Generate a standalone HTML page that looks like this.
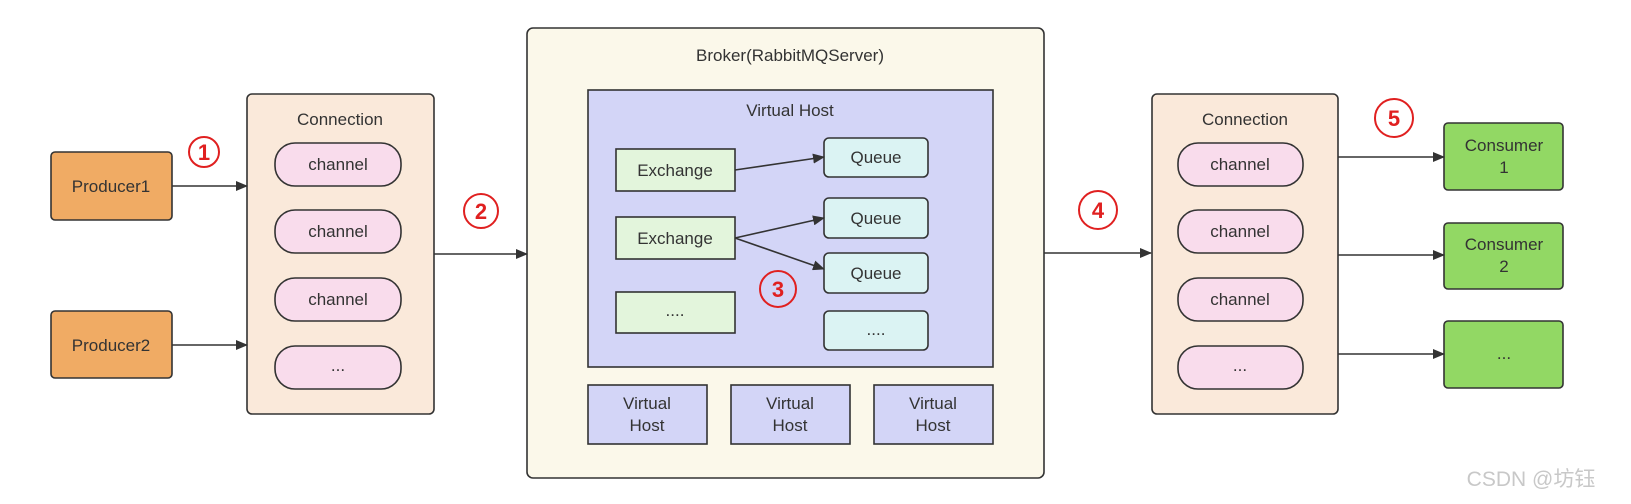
<!DOCTYPE html>
<html><head><meta charset="utf-8"><style>
html,body{margin:0;padding:0;background:#fff;}
svg{display:block;font-family:"Liberation Sans","Noto Sans CJK SC",sans-serif;}
</style></head><body>
<svg width="1631" height="504" viewBox="0 0 1631 504" xmlns="http://www.w3.org/2000/svg">
<defs><marker id="a" markerWidth="12" markerHeight="10" refX="11" refY="5" orient="auto" markerUnits="userSpaceOnUse"><path d="M0,0 L12,5 L0,10 z" fill="#333"/></marker></defs>
<g stroke="#333" stroke-width="1.6" font-size="16" fill="#333">
<!-- producers -->
<rect x="51" y="152" width="121" height="68" rx="4" fill="#f0ab64"/>
<rect x="51" y="311" width="121" height="67" rx="4" fill="#f0ab64"/>
<!-- connection left -->
<rect x="247" y="94" width="187" height="320" rx="5" fill="#fae9da"/>
<rect x="275" y="143" width="126" height="43" rx="20" fill="#f9dcec"/>
<rect x="275" y="210" width="126" height="43" rx="20" fill="#f9dcec"/>
<rect x="275" y="278" width="126" height="43" rx="20" fill="#f9dcec"/>
<rect x="275" y="346" width="126" height="43" rx="20" fill="#f9dcec"/>
<!-- broker -->
<rect x="527" y="28" width="517" height="450" rx="6" fill="#fbf8ea"/>
<rect x="588" y="90" width="405" height="277" fill="#d3d5f7"/>
<rect x="616" y="149" width="119" height="42" fill="#e3f5dc"/>
<rect x="616" y="217" width="119" height="42" fill="#e3f5dc"/>
<rect x="616" y="292" width="119" height="41" fill="#e3f5dc"/>
<rect x="824" y="138" width="104" height="39" rx="5" fill="#dbf3f3"/>
<rect x="824" y="198" width="104" height="40" rx="5" fill="#dbf3f3"/>
<rect x="824" y="253" width="104" height="40" rx="5" fill="#dbf3f3"/>
<rect x="824" y="311" width="104" height="39" rx="5" fill="#dbf3f3"/>
<rect x="588" y="385" width="119" height="59" fill="#d3d5f7"/>
<rect x="731" y="385" width="119" height="59" fill="#d3d5f7"/>
<rect x="874" y="385" width="119" height="59" fill="#d3d5f7"/>
<!-- connection right -->
<rect x="1152" y="94" width="186" height="320" rx="5" fill="#fae9da"/>
<rect x="1178" y="143" width="125" height="43" rx="20" fill="#f9dcec"/>
<rect x="1178" y="210" width="125" height="43" rx="20" fill="#f9dcec"/>
<rect x="1178" y="278" width="125" height="43" rx="20" fill="#f9dcec"/>
<rect x="1178" y="346" width="125" height="43" rx="20" fill="#f9dcec"/>
<!-- consumers -->
<rect x="1444" y="123" width="119" height="67" rx="4" fill="#92d864"/>
<rect x="1444" y="223" width="119" height="66" rx="4" fill="#92d864"/>
<rect x="1444" y="321" width="119" height="67" rx="4" fill="#92d864"/>
<!-- arrows -->
<g fill="none" marker-end="url(#a)">
<line x1="172" y1="186" x2="247" y2="186"/>
<line x1="172" y1="345" x2="247" y2="345"/>
<line x1="434" y1="254" x2="527" y2="254"/>
<line x1="735" y1="170" x2="824" y2="157"/>
<line x1="735" y1="238" x2="824" y2="218"/>
<line x1="735" y1="238" x2="824" y2="269"/>
<line x1="1044" y1="253" x2="1151" y2="253"/>
<line x1="1338" y1="157" x2="1444" y2="157"/>
<line x1="1338" y1="255" x2="1444" y2="255"/>
<line x1="1338" y1="354" x2="1444" y2="354"/>
</g>
</g>
<g font-size="17" fill="#333" text-anchor="middle">
<text x="111" y="192">Producer1</text>
<text x="111" y="351">Producer2</text>
<text x="340" y="125">Connection</text>
<text x="338" y="170">channel</text>
<text x="338" y="237">channel</text>
<text x="338" y="305">channel</text>
<text x="338" y="371">...</text>
<text x="790" y="61">Broker(RabbitMQServer)</text>
<text x="790" y="116">Virtual Host</text>
<text x="675" y="176">Exchange</text>
<text x="675" y="244">Exchange</text>
<text x="675" y="316">....</text>
<text x="876" y="163">Queue</text>
<text x="876" y="224">Queue</text>
<text x="876" y="279">Queue</text>
<text x="876" y="335">....</text>
<text x="647" y="409">Virtual</text><text x="647" y="431">Host</text>
<text x="790" y="409">Virtual</text><text x="790" y="431">Host</text>
<text x="933" y="409">Virtual</text><text x="933" y="431">Host</text>
<text x="1245" y="125">Connection</text>
<text x="1240" y="170">channel</text>
<text x="1240" y="237">channel</text>
<text x="1240" y="305">channel</text>
<text x="1240" y="371">...</text>
<text x="1504" y="151">Consumer</text><text x="1504" y="173">1</text>
<text x="1504" y="250">Consumer</text><text x="1504" y="272">2</text>
<text x="1504" y="359">...</text>
</g>
<g fill="none" stroke="#e02020" stroke-width="2">
<circle cx="204" cy="152" r="15"/>
<circle cx="481" cy="211" r="17"/>
<circle cx="778" cy="289" r="18"/>
<circle cx="1098" cy="210" r="19"/>
<circle cx="1394" cy="118" r="19"/>
</g>
<g fill="#e02020" font-size="22" font-weight="bold" text-anchor="middle">
<text x="204" y="160">1</text>
<text x="481" y="219">2</text>
<text x="778" y="297">3</text>
<text x="1098" y="218">4</text>
<text x="1394" y="126">5</text>
</g>
<text x="1531" y="486" font-size="21" fill="#c8c8c8" text-anchor="middle">CSDN @坊钰</text>
</svg>
</body></html>
